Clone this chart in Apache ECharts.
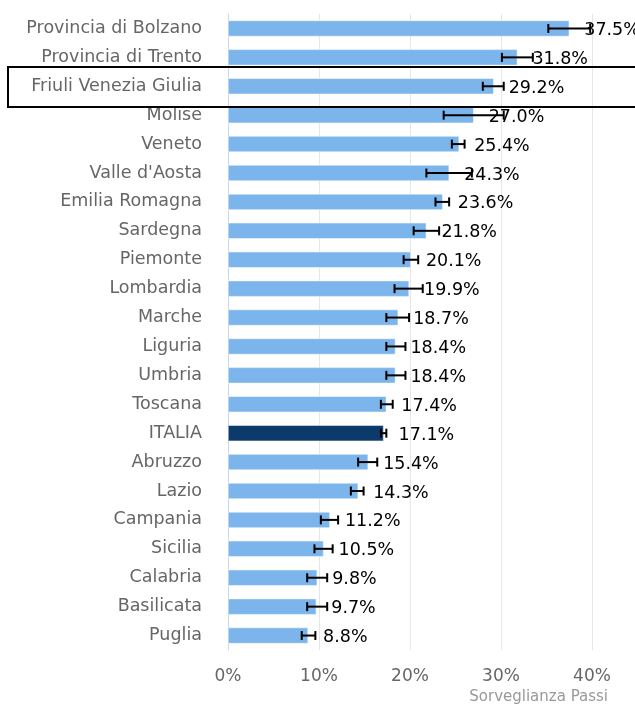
<!DOCTYPE html>
<html><head><meta charset="utf-8">
<script src="https://cdn.jsdelivr.net/npm/echarts@6/dist/echarts.min.js"></script>
<style>html,body{margin:0;padding:0;background:#fff}#c{width:635px;height:707px}</style>
</head><body><div id="c"></div>
<script>
var categories = ["Provincia di Bolzano","Provincia di Trento","Friuli Venezia Giulia","Molise","Veneto","Valle d'Aosta","Emilia Romagna","Sardegna","Piemonte","Lombardia","Marche","Liguria","Umbria","Toscana","ITALIA","Abruzzo","Lazio","Campania","Sicilia","Calabria","Basilicata","Puglia"];
var values = [37.5,31.8,29.2,27.0,25.4,24.3,23.6,21.8,20.1,19.9,18.7,18.4,18.4,17.4,17.1,15.4,14.3,11.2,10.5,9.8,9.7,8.8];
var lower = [35.2,30.1,28.0,23.7,24.6,21.8,22.8,20.4,19.3,18.3,17.4,17.4,17.4,16.8,16.8,14.3,13.5,10.2,9.5,8.7,8.7,8.1];
var upper = [39.8,33.5,30.3,30.3,26.0,26.8,24.3,23.2,20.9,21.4,19.9,19.5,19.5,18.1,17.4,16.4,14.9,12.1,11.5,10.9,10.9,9.6];
var xTicks = [0,10,20,30,40];
var highlight = "ITALIA";
var source = "Sorveglianza Passi";

var font = "DejaVu Sans";
var chart = echarts.init(document.getElementById('c'), null, {renderer:'canvas'});
var errData = categories.map(function(c,i){return [i, lower[i], upper[i]];});
chart.setOption({
  animation:false,
  grid:{left:228, top:14, width:364, bottom:57, containLabel:false},
  xAxis:{type:'value', min:xTicks[0], max:xTicks[xTicks.length-1], interval:10,
    axisLine:{show:false}, axisTick:{show:false},
    splitLine:{lineStyle:{color:'#e6e6e6', width:1}},
    axisLabel:{formatter:'{value}%', color:'#666', fontFamily:font, fontSize:17, margin:18}},
  yAxis:{type:'category', data:categories, inverse:true,
    axisLine:{lineStyle:{color:'#ccd6eb'}},
    axisTick:{length:17, lineStyle:{color:'#ccd6eb'}},
    axisLabel:{color:'#666', fontFamily:font, fontSize:17.5, margin:26}},
  series:[
    {type:'bar', barWidth:16, data:values.map(function(v,i){
        return {value:v, itemStyle:{color: categories[i]===highlight ? '#0c3a6b' : '#7cb5ec', borderColor:'#fff', borderWidth:0.5}};}),
      label:{show:true, position:'right', distance:15, offset:[0,2], formatter:function(p){return p.value.toFixed(1)+'%';},
        color:'#000', fontFamily:font, fontSize:17.5}},
    {type:'custom', data:errData, z:5,
      renderItem:function(params, api){
        var y = api.value(0);
        var p1 = api.coord([api.value(1), y]);
        var p2 = api.coord([api.value(2), y]);
        var h = 4.5;
        var st = {stroke:'#000', lineWidth:2};
        return {type:'group', children:[
          {type:'line', shape:{x1:p1[0], y1:p1[1], x2:p2[0], y2:p2[1]}, style:st},
          {type:'line', shape:{x1:p1[0], y1:p1[1]-h, x2:p1[0], y2:p1[1]+h}, style:st},
          {type:'line', shape:{x1:p2[0], y1:p2[1]-h, x2:p2[0], y2:p2[1]+h}, style:st}
        ]};
      },
      encode:{x:[1,2], y:0}}
  ],
  graphic:[
    {type:'rect', shape:{x:8, y:67, width:640, height:40}, style:{fill:null, stroke:'#000', lineWidth:2}, z:100},
    {type:'text', right:27, top:690, style:{text:source, fill:'#999', fontFamily:font, fontSize:15}}
  ]
});
</script></body></html>
